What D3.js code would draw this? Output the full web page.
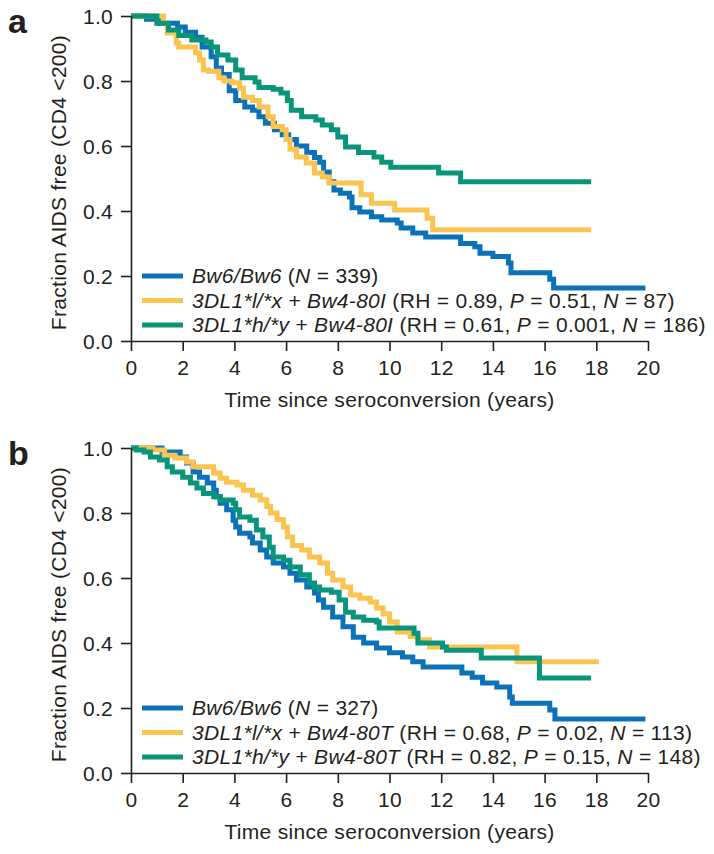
<!DOCTYPE html>
<html><head><meta charset="utf-8">
<script src="https://cdn.jsdelivr.net/npm/d3@7"></script>
<style>
body{margin:0;background:#fff}
svg{display:block}
text{font-family:"Liberation Sans",Arial,Helvetica,sans-serif;fill:#231f20}
</style>
</head><body>
<svg id="chart" width="714" height="854"></svg>
<script>
// ---- data ----
const xTicks = [0,2,4,6,8,10,12,14,16,18,20];
const yTicks = [0.0,0.2,0.4,0.6,0.8,1.0];
const panelLabels = ["a","b"];
const xTitle = "Time since seroconversion (years)";
const yTitle = "Fraction AIDS free (CD4 <200)";
const colors = ["#0b72b9","#fbc34f","#08957a"];

// Panel a: [time (years), fraction AIDS free]
const aBw6 = [[0,1],[0.6,0.99],[1.1,0.978],[1.8,0.966],[2.1,0.95],[2.5,0.935],[2.75,0.905],[3.1,0.875],[3.3,0.84],[3.5,0.82],[3.8,0.77],[4.05,0.74],[4.4,0.72],[4.7,0.71],[4.95,0.69],[5.2,0.67],[5.55,0.65],[5.85,0.635],[6.1,0.62],[6.4,0.60],[6.8,0.58],[7.1,0.565],[7.3,0.55],[7.45,0.52],[7.67,0.49],[7.85,0.465],[8.1,0.455],[8.45,0.443],[8.55,0.41],[8.85,0.397],[9.3,0.382],[9.7,0.372],[10.3,0.363],[10.45,0.348],[10.9,0.332],[11.4,0.32],[12.75,0.30],[13.3,0.29],[13.5,0.27],[14.0,0.26],[14.6,0.24],[14.7,0.21],[16.2,0.19],[16.35,0.163],[19.9,0.163]];
const aLowI = [[0,1],[1.25,0.978],[1.4,0.948],[1.75,0.917],[1.85,0.905],[2.5,0.886],[2.65,0.865],[2.8,0.834],[3.0,0.83],[3.4,0.81],[3.6,0.80],[3.9,0.795],[4.2,0.778],[4.35,0.75],[4.7,0.74],[4.96,0.72],[5.3,0.69],[5.5,0.66],[5.85,0.65],[6.0,0.62],[6.15,0.59],[6.4,0.566],[6.78,0.548],[7.1,0.517],[7.4,0.505],[7.67,0.486],[8.9,0.45],[9.3,0.424],[10.2,0.403],[11.45,0.378],[11.67,0.342],[17.8,0.342]];
const aHighI = [[0,1],[1.0,0.978],[1.45,0.957],[1.85,0.94],[2.35,0.926],[2.9,0.92],[3.1,0.905],[3.35,0.88],[3.75,0.865],[4.05,0.834],[4.3,0.81],[4.8,0.797],[4.95,0.78],[5.5,0.775],[5.8,0.763],[6.05,0.74],[6.2,0.71],[6.6,0.69],[7.15,0.68],[7.4,0.665],[7.75,0.65],[8.0,0.628],[8.3,0.597],[8.8,0.58],[9.4,0.566],[9.7,0.55],[10.05,0.535],[11.9,0.517],[12.75,0.49],[17.8,0.49]];

// Panel b
const bBw6 = [[0,1],[1.2,0.988],[1.9,0.972],[2.15,0.954],[2.4,0.926],[2.65,0.91],[2.95,0.892],[3.2,0.87],[3.3,0.85],[3.45,0.83],[3.7,0.81],[3.95,0.778],[4.05,0.757],[4.2,0.738],[4.6,0.726],[4.7,0.708],[5.0,0.686],[5.25,0.665],[5.5,0.646],[5.9,0.634],[6.15,0.615],[6.4,0.594],[6.8,0.572],[7.1,0.554],[7.25,0.532],[7.45,0.51],[7.8,0.48],[8.2,0.45],[8.6,0.418],[9.0,0.40],[9.5,0.385],[10.0,0.37],[10.5,0.357],[10.9,0.342],[11.3,0.326],[12.8,0.308],[13.2,0.295],[13.6,0.277],[14.15,0.265],[14.65,0.234],[14.75,0.215],[16.2,0.194],[16.4,0.166],[19.9,0.166]];
const bLowT = [[0,1],[0.85,0.994],[1.3,0.978],[1.7,0.969],[2.15,0.957],[2.4,0.942],[3.2,0.923],[3.45,0.907],[3.7,0.895],[4.1,0.886],[4.35,0.87],[4.7,0.855],[5.0,0.84],[5.25,0.82],[5.4,0.80],[5.65,0.78],[5.9,0.757],[6.05,0.726],[6.25,0.70],[6.6,0.686],[6.9,0.665],[7.3,0.646],[7.6,0.615],[7.8,0.594],[8.2,0.572],[8.5,0.548],[8.85,0.538],[9.25,0.526],[9.5,0.508],[9.75,0.49],[10.0,0.465],[10.3,0.434],[10.8,0.42],[11.1,0.41],[11.55,0.388],[14.93,0.342],[18.1,0.342]];
const bHighT = [[0,1],[0.2,0.994],[0.5,0.988],[0.75,0.972],[1.1,0.963],[1.4,0.942],[1.6,0.926],[2.0,0.91],[2.3,0.892],[2.55,0.877],[2.8,0.86],[3.2,0.85],[3.45,0.84],[3.95,0.83],[4.05,0.81],[4.2,0.788],[4.6,0.778],[4.85,0.748],[5.1,0.726],[5.35,0.695],[5.5,0.665],[5.9,0.655],[6.15,0.634],[6.55,0.61],[6.9,0.585],[7.1,0.572],[7.3,0.563],[7.75,0.556],[8.05,0.532],[8.3,0.495],[8.6,0.48],[9.0,0.47],[9.5,0.465],[9.6,0.446],[10.95,0.43],[11.1,0.40],[12.05,0.388],[12.2,0.378],[13.55,0.354],[15.8,0.292],[17.8,0.292]];

const legendA = [
  [["Bw6/Bw6",1],[" (",0],["N",1],[" = 339)",0]],
  [["3DL1*l/*x",1],[" + ",0],["Bw4-80I",1],[" (RH = 0.89, ",0],["P",1],[" = 0.51, ",0],["N",1],[" = 87)",0]],
  [["3DL1*h/*y",1],[" + ",0],["Bw4-80I",1],[" (RH = 0.61, ",0],["P",1],[" = 0.001, ",0],["N",1],[" = 186)",0]]
];
const legendB = [
  [["Bw6/Bw6",1],[" (",0],["N",1],[" = 327)",0]],
  [["3DL1*l/*x",1],[" + ",0],["Bw4-80T",1],[" (RH = 0.68, ",0],["P",1],[" = 0.02, ",0],["N",1],[" = 113)",0]],
  [["3DL1*h/*y",1],[" + ",0],["Bw4-80T",1],[" (RH = 0.82, ",0],["P",1],[" = 0.15, ",0],["N",1],[" = 148)",0]]
];

const panels = [
  {label: panelLabels[0], series: [aBw6, aLowI, aHighI], legend: legendA, top: 16},
  {label: panelLabels[1], series: [bBw6, bLowT, bHighT], legend: legendB, top: 448}
];

// ---- drawing ----
const svg = d3.select("#chart");
const plotH = 325, x0 = 131, x1 = 648;
const ink = "#231f20";
const fs = "21px", ls = "0.3px";

panels.forEach(p => {
  const g = svg.append("g");
  const x = d3.scaleLinear().domain([0,20]).range([x0,x1]);
  const y = d3.scaleLinear().domain([0,1]).range([p.top+plotH, p.top]);

  const line = d3.line().x(d=>x(d[0])).y(d=>y(d[1])).curve(d3.curveStepAfter);
  [0,1,2].forEach(i => {
    g.append("path").datum(p.series[i]).attr("d", line)
      .attr("fill","none").attr("stroke", colors[i]).attr("stroke-width",5)
      .attr("stroke-linejoin","miter").attr("stroke-linecap","butt");
  });

  const xa = g.append("g").attr("transform",`translate(0,${p.top+plotH})`)
    .call(d3.axisBottom(x).tickValues(xTicks).tickFormat(d3.format("d")).tickSize(10).tickSizeOuter(0).tickPadding(9));
  const ya = g.append("g").attr("transform",`translate(${x0},0)`)
    .call(d3.axisLeft(y).tickValues(yTicks).tickFormat(d3.format(".1f")).tickSize(10).tickSizeOuter(0).tickPadding(8));
  [xa,ya].forEach(a => {
    a.select(".domain").attr("stroke",ink).attr("stroke-width",1.6);
    a.selectAll(".tick line").attr("stroke",ink).attr("stroke-width",1.6);
    a.selectAll(".tick text").attr("fill",ink).style("font-size",fs)
      .style("letter-spacing",ls).style("font-family",'"Liberation Sans",Arial,sans-serif');
  });
  ya.selectAll(".tick text").attr("dy","0.35em");

  g.append("text").attr("x",(x0+x1)/2).attr("y",p.top+plotH+66)
    .attr("text-anchor","middle").style("font-size",fs).style("letter-spacing",ls).text(xTitle);
  g.append("text").attr("transform",`translate(66,${p.top+plotH/2+4}) rotate(-90)`)
    .attr("text-anchor","middle").style("font-size",fs).style("letter-spacing",ls).text(yTitle);

  g.append("text").attr("x",8).attr("y",p.top+17).style("font-size","34px")
    .style("font-weight","bold").text(p.label);

  const lg = g.append("g");
  p.legend.forEach((row,i) => {
    const cy = p.top + 260 + i*24.5;
    lg.append("line").attr("x1",142).attr("x2",183).attr("y1",cy).attr("y2",cy)
      .attr("stroke",colors[i]).attr("stroke-width",5);
    const t = lg.append("text").attr("x",192).attr("y",cy).attr("dy","0.35em")
      .style("font-size",fs).style("letter-spacing",ls);
    row.forEach(seg => {
      t.append("tspan").text(seg[0]).style("font-style", seg[1] ? "italic" : "normal");
    });
  });
});
</script>
</body></html>
